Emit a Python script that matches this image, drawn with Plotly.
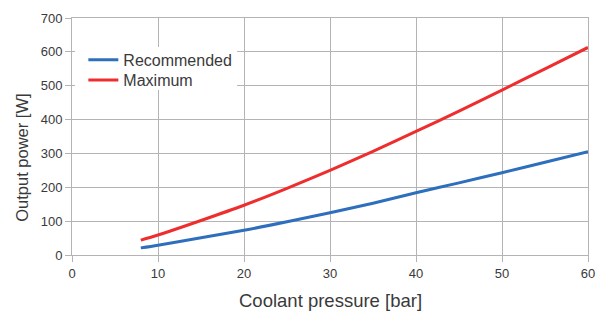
import plotly.graph_objects as go

pressure = [8, 10, 15, 20, 25, 30, 35, 40, 45, 50, 55, 60]
recommended = [21, 29, 51, 73, 98, 125, 153, 184, 213, 243, 274, 305]
maximum = [44, 59, 102, 147, 197, 250, 306, 365, 425, 487, 550, 613]

x_ticks = [0, 10, 20, 30, 40, 50, 60]
y_ticks = [0, 100, 200, 300, 400, 500, 600, 700]

grid = "#b4b4b4"
txt = "#3a3a3a"
font = "Liberation Sans, Arial, sans-serif"

fig = go.Figure()
fig.add_trace(go.Scatter(x=pressure, y=recommended, mode="lines", name="Recommended",
                         legend="legend",
                         line=dict(color="#2e6fbd", width=3, shape="spline", smoothing=0.8)))
fig.add_trace(go.Scatter(x=pressure, y=maximum, mode="lines", name="Maximum",
                         legend="legend2",
                         line=dict(color="#ee2e2e", width=3, shape="spline", smoothing=0.8)))

leg = dict(xanchor="left", yanchor="middle", bgcolor="rgba(0,0,0,0)",
           font=dict(size=16, color=txt), itemwidth=30)

# page body adds an 8px offset, so the figure is 600x303
fig.update_layout(
    width=600, height=303,
    margin=dict(l=64, r=20, t=10, b=56),
    paper_bgcolor="white", plot_bgcolor="white",
    font=dict(family=font, color=txt, size=13),
    showlegend=True,
    legend=dict(x=0.022, y=0.823, **leg),
    legend2=dict(x=0.022, y=0.738, **leg),
    shapes=[dict(type="rect", xref="paper", yref="paper", x0=0.006, x1=0.32,
                 y0=0.696, y1=0.878, fillcolor="white", line=dict(width=0), layer="above")],
    annotations=[
        dict(text="Coolant pressure [bar]", xref="paper", yref="paper", x=0.5, y=-0.19,
             xanchor="center", yanchor="middle", showarrow=False,
             font=dict(size=18.5, color=txt)),
        dict(text="Output power [W]", xref="paper", yref="paper", x=-0.097, y=0.41,
             xanchor="center", yanchor="middle", showarrow=False, textangle=-90,
             font=dict(size=16.5, color=txt)),
    ],
)
fig.update_xaxes(range=[0, 60], tickvals=x_ticks, showgrid=True, gridcolor=grid, gridwidth=1,
                 showline=True, linecolor=grid, mirror=True, zeroline=False, automargin=False,
                 ticks="outside", ticklen=6, tickcolor=grid,
                 tickfont=dict(size=13, color=txt))
fig.update_yaxes(range=[0, 700], tickvals=y_ticks, showgrid=True, gridcolor=grid, gridwidth=1,
                 showline=True, linecolor=grid, mirror=True, zeroline=False, automargin=False,
                 ticks="outside", ticklen=6, tickcolor=grid,
                 tickfont=dict(size=13, color=txt))

fig.write_html("out.html")
